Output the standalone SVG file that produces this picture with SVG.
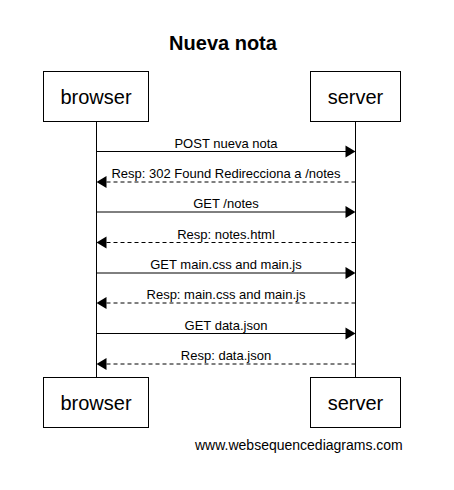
<svg xmlns="http://www.w3.org/2000/svg" width="454" height="490" viewBox="0 0 454 490">
<style>
.box{fill:#fff;stroke:#000;stroke-width:1}
.pt{font-family:"Liberation Sans",Arial,sans-serif;font-size:20px;text-anchor:middle;fill:#000}
.lbl{font-family:"Liberation Sans",Arial,sans-serif;font-size:13px;text-anchor:middle;fill:#000}
.life{stroke:#000;stroke-width:1}
.msg{stroke:#000;stroke-width:1;fill:none}
.dash{stroke-dasharray:4 3}
.ah{fill:#000}
</style>
<rect width="454" height="490" fill="#fff"/>
<text x="223" y="50" font-family="'Liberation Sans',Arial,sans-serif" font-size="20" font-weight="bold" text-anchor="middle">Nueva nota</text>
<g id="lifelines">
<line class="life" x1="96.5" y1="121.5" x2="96.5" y2="377.5"/>
<line class="life" x1="355.5" y1="121.5" x2="355.5" y2="377.5"/>
</g>
<g id="browser">
<rect class="box" x="43.5" y="71.5" width="105" height="50"/>
<text class="pt" x="96" y="104">browser</text>
</g>
<g id="server">
<rect class="box" x="310.5" y="71.5" width="90" height="50"/>
<text class="pt" x="355.5" y="104">server</text>
</g>
<g id="browser-bottom">
<rect class="box" x="43.5" y="377.5" width="105" height="50"/>
<text class="pt" x="96" y="410">browser</text>
</g>
<g id="server-bottom">
<rect class="box" x="310.5" y="377.5" width="90" height="50"/>
<text class="pt" x="355.5" y="410">server</text>
</g>
<g id="connectors">
<line class="msg" x1="96.5" y1="151.5" x2="346" y2="151.5"/>
<polygon class="ah" points="355.5,151.5 345.5,145.5 345.5,157.5"/>
<text class="lbl" x="226" y="147.5">POST nueva nota</text>

<line class="msg dash" x1="355.5" y1="182" x2="106" y2="182"/>
<polygon class="ah" points="96.5,182 106.5,176 106.5,188"/>
<text class="lbl" x="226" y="178">Resp: 302 Found Redirecciona a /notes</text>

<line class="msg" x1="96.5" y1="212" x2="346" y2="212"/>
<polygon class="ah" points="355.5,212 345.5,206 345.5,218"/>
<text class="lbl" x="226" y="208">GET /notes</text>

<line class="msg dash" x1="355.5" y1="242.5" x2="106" y2="242.5"/>
<polygon class="ah" points="96.5,242.5 106.5,236.5 106.5,248.5"/>
<text class="lbl" x="226" y="238.5">Resp: notes.html</text>

<line class="msg" x1="96.5" y1="273" x2="346" y2="273"/>
<polygon class="ah" points="355.5,273 345.5,267 345.5,279"/>
<text class="lbl" x="226" y="269">GET main.css and main.js</text>

<line class="msg dash" x1="355.5" y1="303" x2="106" y2="303"/>
<polygon class="ah" points="96.5,303 106.5,297 106.5,309"/>
<text class="lbl" x="226" y="299">Resp: main.css and main.js</text>

<line class="msg" x1="96.5" y1="333.5" x2="346" y2="333.5"/>
<polygon class="ah" points="355.5,333.5 345.5,327.5 345.5,339.5"/>
<text class="lbl" x="226" y="329.5">GET data.json</text>

<line class="msg dash" x1="355.5" y1="364" x2="106" y2="364"/>
<polygon class="ah" points="96.5,364 106.5,358 106.5,370"/>
<text class="lbl" x="226" y="360">Resp: data.json</text>
</g>
<text x="195" y="450" font-family="'Liberation Sans',Arial,sans-serif" font-size="14">www.websequencediagrams.com</text>
</svg>
